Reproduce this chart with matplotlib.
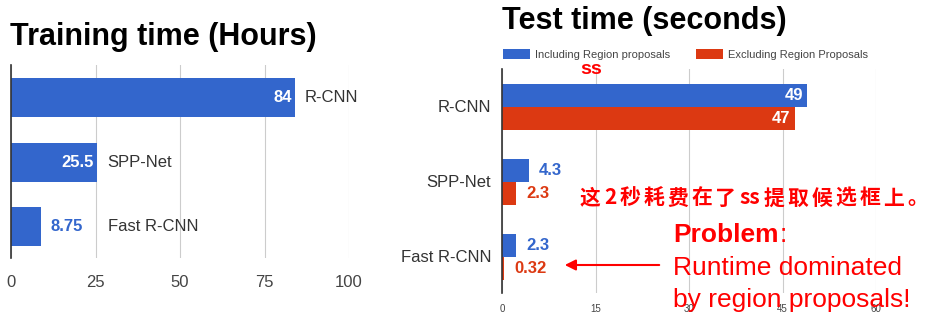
import matplotlib.pyplot as plt
import numpy as np

plt.rcParams['font.family'] = ['Liberation Sans', 'DejaVu Sans']

blue = '#3366cc'
red = '#dc3912'
grid_color = '#cccccc'
tick_color = '#444444'

# training time (hours)
train_models = ['R-CNN', 'SPP-Net', 'Fast R-CNN']
train_hours = [84, 25.5, 8.75]
train_labels = ['84', '25.5', '8.75']
train_ticks = [0, 25, 50, 75, 100]

# test time (seconds)
test_models = ['R-CNN', 'SPP-Net', 'Fast R-CNN']
test_incl = [49, 4.3, 2.3]
test_excl = [47, 2.3, 0.32]
test_incl_labels = ['49', '4.3', '2.3']
test_excl_labels = ['47', '2.3', '0.32']
test_ticks = [0, 15, 30, 45, 60]

note_cn = ['这', '2', '秒', '耗', '费', '在', '了', 'ss', '提', '取', '候', '选', '框', '上', '。']

W, H = 935, 322
fig = plt.figure(figsize=(W / 100, H / 100), dpi=100)
renderer = fig.canvas.get_renderer()


def px_box(x0, y0, x1, y1):
    return [x0 / W, 1 - y1 / H, (x1 - x0) / W, (y1 - y0) / H]


def style_axes(ax, ticks, tick_size, pad):
    ax.set_xticks(ticks)
    ax.set_yticks([])
    for s in ['top', 'right', 'bottom']:
        ax.spines[s].set_visible(False)
    ax.spines['left'].set_color('#333333')
    ax.spines['left'].set_linewidth(1.2)
    ax.grid(axis='x', color=grid_color, linewidth=0.8)
    ax.set_axisbelow(True)
    ax.tick_params(axis='x', length=0, labelsize=tick_size, labelcolor=tick_color, pad=pad)


# ---- left chart
ax1 = fig.add_axes(px_box(11, 65, 349, 258))
y1 = np.arange(len(train_models))
ax1.barh(y1, train_hours, height=0.6, color=blue)
ax1.set_xlim(0, 100)
ax1.set_ylim(2.48, -0.5)
style_axes(ax1, train_ticks, 12, 12)
for i, (v, lab, name) in enumerate(zip(train_hours, train_labels, train_models)):
    if v > 15:
        ax1.text(v - 1, i, lab, ha='right', va='center', color='white',
                 fontsize=12, fontweight='bold')
        ax1.text(v + 3, i, name, ha='left', va='center', color='#333333', fontsize=12)
    else:
        ax1.text(v + 3, i, lab, ha='left', va='center', color=blue,
                 fontsize=12, fontweight='bold')
        ax1.text(v + 20, i, name, ha='left', va='center', color='#333333', fontsize=12)

fig.text(10 / W, 1 - 37 / H, 'Training time (Hours)', fontsize=22, fontweight='bold',
         va='center', ha='left')

# ---- right chart
ax2 = fig.add_axes(px_box(502, 69, 876, 293))
y2 = np.arange(len(test_models))
bh = 0.31
ax2.barh(y2 - bh / 2, test_incl, height=bh, color=blue, label='Including Region proposals')
ax2.barh(y2 + bh / 2, test_excl, height=bh, color=red, label='Excluding Region Proposals')
ax2.set_xlim(0, 60)
ax2.set_ylim(2.48, -0.507)
style_axes(ax2, test_ticks, 7, 8)
for i in range(len(test_models)):
    for off, v, lab, c in [(-bh / 2, test_incl[i], test_incl_labels[i], blue),
                           (bh / 2, test_excl[i], test_excl_labels[i], red)]:
        if v > 15:
            ax2.text(v - 0.7, i + off, lab, ha='right', va='center', color='white',
                     fontsize=12, fontweight='bold')
        else:
            ax2.text(v + 1.6, i + off, lab, ha='left', va='center', color=c,
                     fontsize=12, fontweight='bold')
    ax2.text(-1.7, i, test_models[i], ha='right', va='center', color='#333333', fontsize=12)

ax2.legend(loc='lower left', bbox_to_anchor=(-0.021, 1.0), ncol=2, frameon=False, fontsize=8,
           handlelength=2.4, handleheight=1.0, borderaxespad=0.8, borderpad=0,
           columnspacing=2.3, handletextpad=0.5, labelcolor='#444444')

fig.text(502 / W, 1 - 21 / H, 'Test time (seconds)', fontsize=22, fontweight='bold',
         va='center', ha='left')

# ---- annotations
fig.text(591 / W, 1 - 69 / H, 'ss', color='red', fontsize=14, fontweight='bold',
         ha='center', va='center')

# chinese note, drawn with letter spacing
cn_font = dict(color='red', fontsize=15, fontweight='bold', va='center', ha='left',
               family=['Noto Sans CJK SC', 'DejaVu Sans'])
parts = [fig.text(0, 1 - 198 / H, ch, **cn_font) for ch in note_cn]
widths = [p.get_window_extent(renderer).width for p in parts]
gap = (348 - sum(widths)) / (len(parts) - 1)
x = 580
for p, w in zip(parts, widths):
    p.set_x(x / W)
    x += w + gap

prob = fig.text(673 / W, 1 - 235 / H, 'Problem', color='red', fontsize=19,
                fontweight='bold', ha='left', va='center')
pw = prob.get_window_extent(renderer).width
fig.text((673 + pw + 1) / W, 1 - 235 / H, ':', color='red', fontsize=19,
         ha='left', va='center')
fig.text(673 / W, 1 - 268 / H, 'Runtime dominated', color='red', fontsize=19,
         ha='left', va='center')
fig.text(673 / W, 1 - 300 / H, 'by region proposals!', color='red', fontsize=19,
         ha='left', va='center')
fig.add_artist(plt.Annotation('', xy=(562 / W, 1 - 265 / H), xytext=(662 / W, 1 - 265 / H),
                              xycoords='figure fraction', textcoords='figure fraction',
                              arrowprops=dict(arrowstyle='-|>', color='red', lw=1.5,
                                              mutation_scale=16)))

fig.savefig('out.png', dpi=100)
